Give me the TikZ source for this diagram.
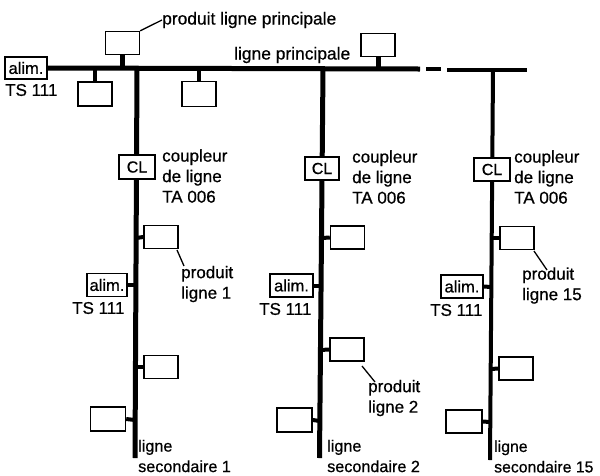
\documentclass[tikz,border=0pt]{standalone}
\usepackage{fontspec}
\setmainfont[FakeBold=0.7]{Liberation Sans}
\begin{document}
\begin{tikzpicture}[x=1pt,y=-1pt,
  bx/.style={draw=black,fill=white,line width=1.4pt,inner sep=0pt,minimum width=34pt,minimum height=23pt},
  prise/.style={bx,minimum width=42pt,font=\fontsize{16.5}{18}\selectfont},
  bus/.style={line width=5pt,black},
  bus3/.style={line width=4pt,black},
  stem/.style={line width=4pt,black},
  leader/.style={line width=1.3pt,black},
  lbl/.style={inner sep=0pt,anchor=west,align=left,font=\fontsize{17}{20.5}\selectfont},
  lblsec/.style={inner sep=0pt,anchor=west,align=left,font=\fontsize{16.2}{20.5}\selectfont},
  lbltop/.style={inner sep=0pt,anchor=west,font=\fontsize{17.4}{20.5}\selectfont},
  cltext/.style={bx,font=\fontsize{16}{18}\selectfont}]
\useasboundingbox (0,0) rectangle (600,475);
% main line
\node[prise,minimum height=22pt] (a0) at (26,68) {alim.};
\coordinate (mE) at (420,69);
\coordinate (dA) at (426,69);
\coordinate (dB) at (441,69);
\coordinate (nA) at (447,70);
\coordinate (nB) at (527,70);
\draw[bus] (a0.east) -- (mE);
\draw[bus3] (dA) -- (dB);
\draw[bus3] (nA) -- (nB);
% main line products
\node[bx,minimum height=23pt] (p1) at (122.5,43) {};
\node[bx,minimum height=24pt] (p2) at (95,94) {};
\node[bx,minimum height=25pt] (p3) at (199,94) {};
\node[bx,minimum height=23pt] (p4) at (378,45) {};
\coordinate (j1) at (122.5,69);
\coordinate (j2) at (95,69);
\coordinate (j3) at (199,69);
\coordinate (j4) at (378,69);
\draw[line width=5pt] (p1.south) -- (j1);
\draw[stem] (p2.north) -- (j2);
\draw[stem] (p3.north) -- (j3);
\draw[line width=5pt] (p4.south) -- (j4);
\node[lbltop] (tP) at (162,20) {produit ligne principale};
\node[lbltop] (tL) at (234,55) {ligne principale};
\node[lbl] (t0) at (5,90) {TS 111};
\draw[leader] (p1.north east) -- (tP.west);
% column 1
\coordinate (c1t) at (137,69);
\coordinate (c1b) at (135,458);
\draw[bus] (c1t) -- (c1b);
\node[cltext,minimum width=36pt,minimum height=24pt] (cl1) at (137,167) {CL};
\node[lbl] (tc1) at (162,176) {coupleur\\de ligne\\TA 006};
\node[bx] (b11) at (161,237) {};
\node[prise,minimum width=40pt] (al1) at (107,285) {alim.};
\node[bx] (b12) at (161,367) {};
\node[bx,minimum width=35pt,minimum height=24pt] (b13) at (108,419) {};
\coordinate (k11) at (136,238);
\coordinate (k12) at (136,285);
\coordinate (k13) at (135,367);
\coordinate (k14) at (135,420);
\draw[stem] (b11.west) -- (k11);
\draw[stem] (al1.east) -- (k12);
\draw[stem] (b12.west) -- (k13);
\draw[stem] (b13.east) -- (k14);
\node[lbl] (ts1) at (72,308) {TS 111};
\node[lbl] (tp1) at (181,284) {produit\\ligne 1};
\coordinate (l1a) at (177,250);
\coordinate (l1b) at (184,266);
\draw[leader] (l1a) -- (l1b);
\node[lblsec] (ts1b) at (138,456) {ligne\\secondaire 1};
% column 2
\coordinate (c2t) at (323,69);
\coordinate (c2b) at (319.5,458);
\draw[bus] (c2t) -- (c2b);
\node[cltext,minimum height=23pt] (cl2) at (322,168.5) {CL};
\node[lbl] (tc2) at (352,177) {coupleur\\de ligne\\TA 006};
\node[bx] (b21) at (347.5,237.5) {};
\node[prise,minimum width=43pt] (al2) at (291.5,285.5) {alim.};
\node[bx] (b22) at (347,349.5) {};
\node[bx,minimum width=35pt,minimum height=24pt] (b23) at (294.5,420) {};
\coordinate (k21) at (322,238);
\coordinate (k22) at (321,285.5);
\coordinate (k23) at (320,350);
\coordinate (k24) at (320,421);
\draw[stem] (b21.west) -- (k21);
\draw[stem] (al2.east) -- (k22);
\draw[stem] (b22.west) -- (k23);
\draw[stem] (b23.east) -- (k24);
\node[lbl] (ts2) at (259,309) {TS 111};
\node[lbl] (tp2) at (368,398) {produit\\ligne 2};
\coordinate (l2a) at (362,366);
\coordinate (l2b) at (375,382);
\draw[leader] (l2a) -- (l2b);
\node[lblsec] (ts2b) at (327,456) {ligne\\secondaire 2};
% column 3
\coordinate (c3t) at (493,70);
\coordinate (c3b) at (490,460);
\draw[bus3] (c3t) -- (c3b);
\node[cltext,minimum width=36pt] (cl3) at (492,169.5) {CL};
\node[lbl] (tc3) at (514,177) {coupleur\\de ligne\\TA 006};
\node[bx] (b31) at (517,238) {};
\node[prise] (al3) at (462,286.5) {alim.};
\node[bx] (b32) at (516,368.5) {};
\node[bx,minimum width=36pt] (b33) at (464,421.5) {};
\coordinate (k31) at (492,238);
\coordinate (k32) at (491,287);
\coordinate (k33) at (491,369);
\coordinate (k34) at (490,422);
\draw[stem] (b31.west) -- (k31);
\draw[stem] (al3.east) -- (k32);
\draw[stem] (b32.west) -- (k33);
\draw[stem] (b33.east) -- (k34);
\node[lbl] (ts3) at (430,310) {TS 111};
\node[lbl] (tp3) at (522,285.5) {produit\\ligne 15};
\coordinate (l3a) at (534,251);
\coordinate (l3b) at (547,270);
\draw[leader] (l3a) -- (l3b);
\node[lblsec,font=\fontsize{15.8}{20.5}\selectfont] (ts3b) at (494,456.5) {ligne\\secondaire 15};
\end{tikzpicture}
\end{document}
